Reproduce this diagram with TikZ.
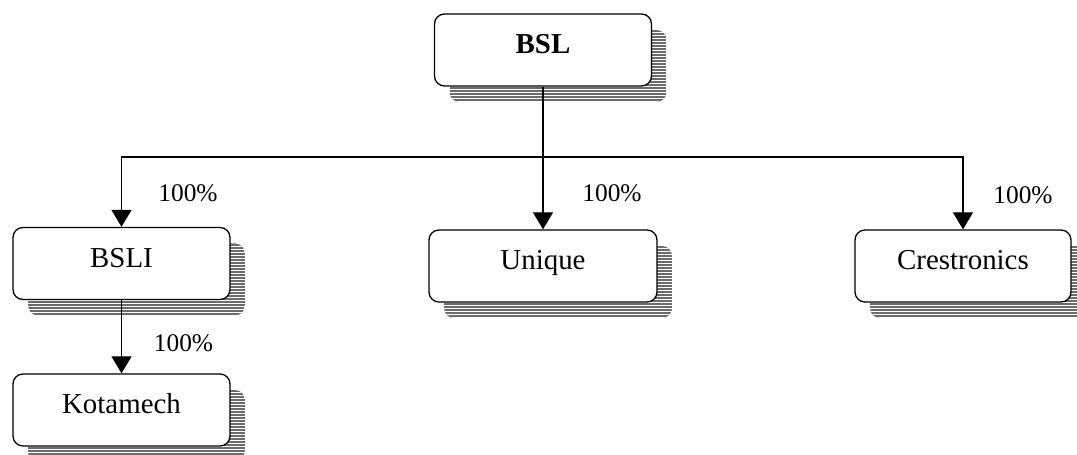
\documentclass[tikz,border=0pt]{standalone}
\usepackage{fontspec}
\setmainfont{Liberation Serif}
\usetikzlibrary{arrows.meta}
\tikzset{
  box/.style={draw, line width=1.3bp, rounded corners=10bp, fill=white,
    minimum width=217bp, minimum height=72bp, inner sep=0pt,
    text height=13pt, text depth=5pt,
    font=\fontsize{29}{31}\selectfont},
  pct/.style={font=\fontsize{25.5}{27}\selectfont, inner sep=0pt},
  conn/.style={line width=1.3bp},
  arr/.style={conn, -{Triangle[width=20bp,length=17bp]}},
  shadowfill/.style={fill=black!58},
  stripe/.style={draw=white, line width=0.85bp},
}
% #1 x, #2 y, #3 width, #4 height
\newcommand\boxshadow[4]{%
  \begin{scope}
    \pgfmathsetmacro\sxa{#1-#3/2+15}
    \pgfmathsetmacro\sxb{#1+#3/2+15}
    \pgfmathsetmacro\sya{#2-#4/2+16}
    \pgfmathsetmacro\syb{#2+#4/2+16}
    \clip[rounded corners=10bp] (\sxa,\sya) rectangle (\sxb,\syb);
    \fill[shadowfill] (\sxa,\sya) rectangle (\sxb,\syb);
    \foreach \k in {0,...,31}{
      \path[stripe] (\sxa,{round(\sya)+2.5+3*\k}) -- (\sxb,{round(\sya)+2.5+3*\k});
    }
  \end{scope}}
\begin{document}
\begin{tikzpicture}[x=1bp,y=-1bp]
  \useasboundingbox (0,0) rectangle (1077,455);
  \boxshadow{543}{50}{217}{72}
  \boxshadow{121.5}{263.5}{217}{72}
  \boxshadow{121.5}{410}{217}{72}
  \boxshadow{543}{266}{228}{72}
  \boxshadow{963}{266}{216}{72}
  \node[box] (BSL) at (543,50) {\textbf{BSL}};
  \node[box] (BSLI) at (121.5,263.5) {BSLI};
  \node[box] (KOT) at (121.5,410) {Kotamech};
  \node[box, minimum width=228bp] (UNI) at (543,266) {Unique};
  \node[box, minimum width=216bp] (CRE) at (963,266) {Crestronics};
  \coordinate (bus) at (543,157);
  \draw[conn] (BSL.south) -- (bus);
  \draw[arr] (bus) -| (BSLI.north);
  \draw[arr] (bus) -- (UNI.north);
  \draw[arr] (bus) -| (CRE.north);
  \draw[arr] (BSLI.south) -- (KOT.north);
  \node[pct] (p1) at (188,193) {100\%};
  \node[pct] (p2) at (612,193) {100\%};
  \node[pct] (p3) at (1023,195) {100\%};
  \node[pct] (p4) at (183.5,343) {100\%};
\end{tikzpicture}
\end{document}
